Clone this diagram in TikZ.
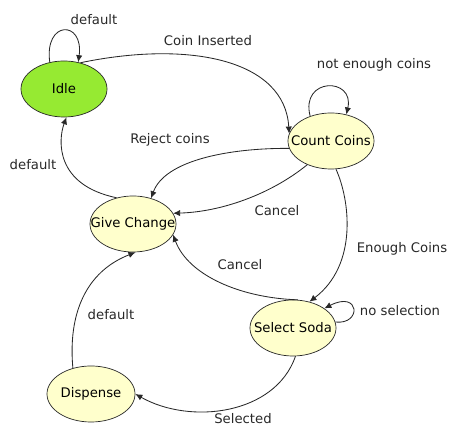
\documentclass[tikz,border=0pt]{standalone}
\usepackage{fontspec}
\setmainfont{DejaVu Sans}
\usetikzlibrary{shapes.geometric,arrows.meta}
\definecolor{idlegreen}{RGB}{150,234,50}
\definecolor{statefill}{RGB}{255,255,204}
\definecolor{edgegray}{RGB}{40,40,40}
\begin{document}
\begin{tikzpicture}[x=0.025cm,y=-0.025cm,
    font=\fontsize{9.4}{11}\selectfont,
    state/.style={ellipse, draw=edgegray, fill=statefill, line width=0.5pt,
        minimum width=2.15cm, minimum height=1.4cm, inner sep=0pt},
    trans/.style={draw=edgegray, line width=0.6pt, -{Latex[length=5pt,width=4.5pt]}},
    lbl/.style={text=edgegray, inner sep=1pt}]
    \useasboundingbox (0,0) rectangle (450,425);

    % States
    \node[state, fill=idlegreen] (idle) at (64,89) {\makebox[0pt]{Idle}};
    \node[state] (count) at (331,141) {\makebox[0pt]{Count Coins}};
    \node[state] (change) at (133,224) {\makebox[0pt]{Give Change}};
    \node[state] (soda) at (293,328) {\makebox[0pt]{Select Soda}};
    \node[state, minimum width=2.2cm] (dispense) at (91,394) {\makebox[0pt]{Dispense}};

    % Self loops
    \draw[trans] (idle.118) .. controls (44,20) and (84,20) .. (idle.62);
    \draw[trans] (count.130) .. controls (300,77) and (355,77) .. (count.60);
    \draw[trans] (soda.8) .. controls (362,325) and (360,290) .. (soda.32);

    % Transitions
    \draw[trans] (idle.58) .. controls (190,40) and (285,60) .. (count.170);
    \draw[trans] (count.190) .. controls (230,148) and (165,160) .. (change.55);
    \draw[trans] (count.225) .. controls (270,195) and (220,212) .. (change.15);
    \draw[trans] (count.-80) .. controls (350,200) and (358,265) .. (soda.58);
    \draw[trans] (soda.80) .. controls (240,298) and (188,275) .. (change.-15);
    \draw[trans] (soda.-85) .. controls (275,415) and (190,425) .. (dispense.0);
    \draw[trans] (dispense.125) .. controls (68,315) and (85,272) .. (change.-85);
    \draw[trans] (change.122) .. controls (55,185) and (58,140) .. (idle.-85);

    % Labels
    \node[lbl] (l-idle) at (94,20) {default};
    \node[lbl] (l-coin) at (208,41) {Coin Inserted};
    \node[lbl] (l-notenough) at (374,65) {not enough coins};
    \node[lbl] (l-reject) at (170,140) {Reject coins};
    \node[lbl] (l-back) at (33,165) {default};
    \node[lbl] (l-cancel1) at (277,211) {Cancel};
    \node[lbl] (l-enough) at (402,249) {Enough Coins};
    \node[lbl] (l-cancel2) at (240,265) {Cancel};
    \node[lbl] (l-nosel) at (400,311) {no selection};
    \node[lbl] (l-disp) at (111,315) {default};
    \node[lbl] (l-sel) at (243,419) {Selected};
\end{tikzpicture}
\end{document}
